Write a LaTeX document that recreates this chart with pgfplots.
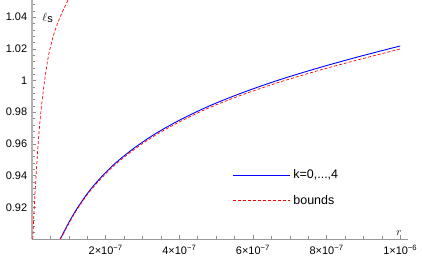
\documentclass[border=0pt]{standalone}
\usepackage{fontspec}
\setmainfont{Liberation Sans}
\usepackage{pgfplots}
\pgfplotsset{compat=1.18}
\definecolor{kblue}{RGB}{0,0,255}
\definecolor{bred}{RGB}{255,0,0}
\begin{document}
\fontsize{11}{13}\selectfont
\begin{tikzpicture}
\begin{axis}[
  at={(0,0)}, anchor=origin,
  scale only axis, width=376bp, height=239bp,
  xmin=0, xmax=10.21, ymin=0.9, ymax=1.0508,
  axis lines=left,
  axis line style={-, draw=black!40},
  x axis line style={line width=0.6bp},
  y axis line style={line width=1.3bp, draw=black!30},
  tick align=inside,
  major tick length=4bp, minor tick length=2.5bp,
  every tick/.style={draw=black!45, line width=0.5bp},
  xtick={2,4,6,8,10},
  xticklabels={2×10\textsuperscript{−7},4×10\textsuperscript{−7},6×10\textsuperscript{−7},8×10\textsuperscript{−7},1×10\textsuperscript{−6}},
  minor xtick={0.5,1,1.5,2.5,3,3.5,4.5,5,5.5,6.5,7,7.5,8.5,9,9.5,10.5},
  ytick={0.92,0.94,0.96,0.98,1,1.02,1.04},
  yticklabels={0.92,0.94,0.96,0.98,1,1.02,1.04},
  minor ytick={0.904,0.908,0.912,0.916,0.924,0.928,0.932,0.936,0.944,0.948,0.952,0.956,0.964,0.968,0.972,0.976,0.984,0.988,0.992,0.996,1.004,1.008,1.012,1.016,1.024,1.028,1.032,1.036,1.044,1.048},
  xticklabel style={font=\fontsize{11}{13}\selectfont, yshift=-2bp},
  yticklabel style={font=\fontsize{11}{13}\selectfont, xshift=-1bp},
  clip=true,
]
% curve k=0,...,4
\addplot[color=kblue, line width=0.9bp, smooth] coordinates {
(0.765,0.900) (0.82,0.9024) (0.9,0.9060) (1.0,0.9104) (1.2,0.9184) (1.5,0.9286) (1.8,0.9370)
(2.2,0.9465) (2.7,0.9561) (3.3,0.9657) (4.0,0.9749) (4.8,0.9838) (5.7,0.9922) (6.7,1.0003)
(7.8,1.0081) (8.9,1.0152) (10.0,1.0218)
};
% bounds
\addplot[color=bred, line width=0.7bp, dash pattern=on 3bp off 2bp, smooth] coordinates {
(0.775,0.900) (0.83,0.9023) (0.91,0.9058) (1.01,0.9102) (1.21,0.9181) (1.51,0.9282) (1.81,0.9365)
(2.21,0.9459) (2.71,0.9554) (3.31,0.9649) (4.01,0.9740) (4.81,0.9828) (5.71,0.9910) (6.71,0.9989)
(7.81,1.0065) (8.91,1.0134) (10.0,1.0199)
};
\addplot[color=bred, line width=0.7bp, dash pattern=on 3bp off 2bp, smooth] coordinates {
(0.022,0.9) (0.05,0.915) (0.09,0.932) (0.135,0.949) (0.186,0.966) (0.254,0.983) (0.343,1.0)
(0.455,1.0165) (0.61,1.0305) (0.79,1.0415) (0.98,1.0508) (1.0,1.0517)
};
% key samples
\addplot[color=bred, line width=0.7bp, dash pattern=on 3bp off 2bp] coordinates {(5.465,0.9246) (6.24,0.9246) (7.012,0.9246)};
\addplot[color=kblue, line width=0.9bp] coordinates {(5.465,0.9404) (6.24,0.9404) (7.012,0.9404)};
\node[anchor=west, inner sep=0pt, font=\fontsize{12.5}{14}\selectfont] at (axis cs:7.094,0.9404) {k=0,...,4};
\node[anchor=west, inner sep=0pt, font=\fontsize{12.5}{14}\selectfont] at (axis cs:7.094,0.9246) {bounds};
\node[anchor=south] at (rel axis cs:0.976,0) {$r$};
\node at (rel axis cs:0.042,0.925) {\fontsize{13}{15}\selectfont$\ell_{\mbox{\fontsize{11}{13}\selectfont s}}$};
\end{axis}
\pgfresetboundingbox
\path (-32bp,-22bp) rectangle (390bp,239bp);
\end{tikzpicture}
\end{document}
